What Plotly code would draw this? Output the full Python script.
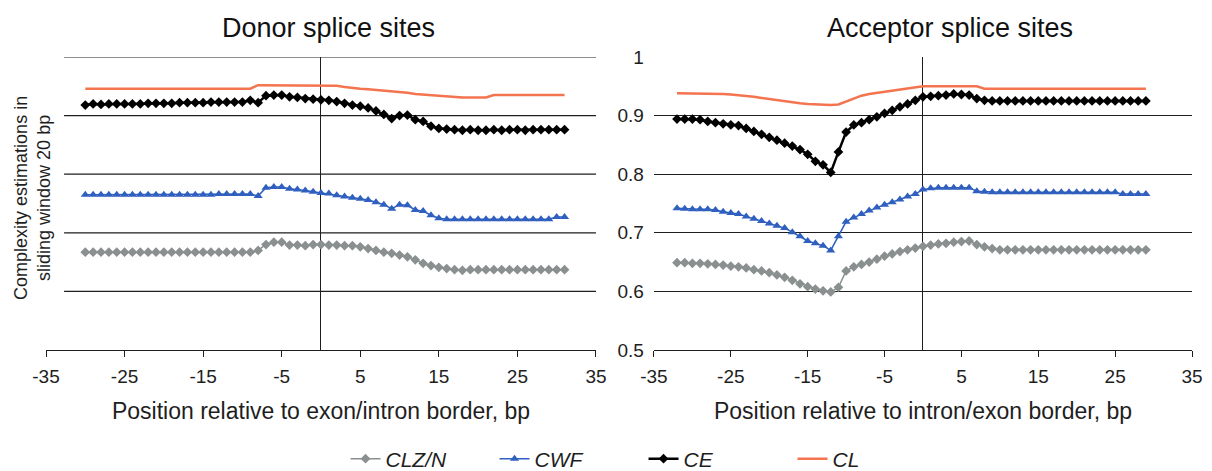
import plotly.graph_objects as go

# ---------------- data ----------------
donor_x = list(range(-30, 32))
acceptor_x = list(range(-32, 30))

donor_cl = [0.946] * 22 + [0.952] * 10 + [
    0.951, 0.949, 0.947, 0.946, 0.945, 0.944, 0.943, 0.942, 0.941, 0.939,
    0.937, 0.936, 0.934, 0.933, 0.932, 0.931, 0.931, 0.931, 0.931, 0.931] + [0.935] * 10

donor_ce = [0.918, 0.920, 0.919, 0.920, 0.920, 0.920, 0.920, 0.920, 0.921, 0.921,
            0.921, 0.921, 0.922, 0.922, 0.922, 0.922, 0.923, 0.923, 0.923, 0.923,
            0.923, 0.926, 0.922, 0.934, 0.935, 0.935, 0.932, 0.931, 0.929, 0.928,
            0.927, 0.926, 0.924, 0.921, 0.918, 0.916, 0.913, 0.908, 0.902, 0.895,
            0.900, 0.901, 0.893, 0.890, 0.882, 0.878, 0.877,
            0.876, 0.875, 0.876, 0.875, 0.875, 0.876, 0.875, 0.876, 0.876, 0.875,
            0.876, 0.876, 0.876, 0.876, 0.876]

donor_cwf = [0.765] * 17 + [0.766] * 5 + [
    0.763, 0.777, 0.778, 0.778, 0.775, 0.774, 0.772, 0.770, 0.768, 0.767,
    0.764, 0.762, 0.760, 0.758, 0.756, 0.752, 0.748, 0.741, 0.748, 0.747,
    0.739, 0.737, 0.730, 0.725] + [0.723] * 14 + [0.727, 0.727]

donor_clzn = [0.667] * 22 + [
    0.670, 0.680, 0.684, 0.684, 0.679, 0.679, 0.678, 0.680, 0.680, 0.679,
    0.679, 0.678, 0.678, 0.676, 0.673, 0.670, 0.667, 0.665, 0.662, 0.659,
    0.654, 0.648, 0.644, 0.641, 0.639, 0.637, 0.636] + [0.637] * 13

acc_cl = [0.938] * 6 + [
    0.937, 0.936, 0.935, 0.934, 0.932, 0.930, 0.928, 0.926, 0.924, 0.922,
    0.921, 0.920, 0.919, 0.918, 0.918, 0.919, 0.924, 0.930, 0.934, 0.937,
    0.939, 0.941, 0.943, 0.945, 0.947, 0.948, 0.950] + [0.950] * 7 + [0.946] * 22

acc_ce = [0.894, 0.894, 0.894, 0.893, 0.890, 0.888, 0.886, 0.884, 0.883, 0.878,
          0.873, 0.868, 0.863, 0.858, 0.853, 0.848, 0.842, 0.834, 0.822, 0.816,
          0.803, 0.838, 0.872, 0.884, 0.888, 0.893, 0.898, 0.904, 0.909, 0.915,
          0.920, 0.926, 0.932, 0.933, 0.934, 0.935, 0.937, 0.936, 0.935, 0.929,
          0.926] + [0.925] * 21

acc_cwf = [0.742, 0.741, 0.740, 0.740, 0.740, 0.739, 0.736, 0.734, 0.732, 0.728,
           0.724, 0.720, 0.716, 0.712, 0.708, 0.701, 0.694, 0.686, 0.682, 0.678,
           0.670, 0.694, 0.719, 0.726, 0.732, 0.738, 0.743, 0.748, 0.752, 0.757,
           0.762, 0.766, 0.774, 0.776, 0.777, 0.777, 0.777, 0.777, 0.777, 0.771,
           0.770] + [0.769] * 17 + [0.766] * 4

acc_clzn = [0.649, 0.649, 0.648, 0.648, 0.647, 0.646, 0.645, 0.643, 0.642, 0.640,
            0.637, 0.635, 0.632, 0.628, 0.624, 0.619, 0.613, 0.608, 0.604, 0.601,
            0.599, 0.607, 0.635, 0.642, 0.646, 0.650, 0.655, 0.660, 0.664, 0.668,
            0.671, 0.674, 0.677, 0.679, 0.681, 0.682, 0.684, 0.685, 0.686, 0.680,
            0.676, 0.673] + [0.671] * 20

x_ticks = [-35, -25, -15, -5, 5, 15, 25, 35]
x_tick_text = ["-35", "-25", "-15", "-5", "5", "15", "25", "35"]
y_ticks = [0.5, 0.6, 0.7, 0.8, 0.9, 1.0]
y_tick_text = ["0.5", "0.6", "0.7", "0.8", "0.9", "1"]
series_names = ["CLZ/N", "CWF", "CE", "CL"]

# ---------------- styles ----------------
GRAY = "#8a8f8f"
BLUE = "#2f5fbf"
BLACK = "#000000"
ORANGE = "#f3744f"
AX = "#1e1e1e"
FONT = "Liberation Sans, Arial, sans-serif"
LEFT_GRID_START = -32.7   # left-panel gridlines start a little inside the axis

fig = go.Figure()

def add_panel(x, clzn, cwf, ce, cl, xa, ya, show_legend):
    fig.add_trace(go.Scatter(x=x, y=clzn, name=series_names[0], mode="lines+markers",
                             line=dict(color=GRAY, width=1.5),
                             marker=dict(symbol="diamond", size=7.5, color=GRAY),
                             xaxis=xa, yaxis=ya, showlegend=show_legend))
    fig.add_trace(go.Scatter(x=x, y=cwf, name=series_names[1], mode="lines+markers",
                             line=dict(color=BLUE, width=1.5),
                             marker=dict(symbol="triangle-up", size=8, color=BLUE),
                             xaxis=xa, yaxis=ya, showlegend=show_legend))
    fig.add_trace(go.Scatter(x=x, y=ce, name=series_names[2], mode="lines+markers",
                             line=dict(color=BLACK, width=2.5),
                             marker=dict(symbol="diamond", size=7.5, color=BLACK),
                             xaxis=xa, yaxis=ya, showlegend=show_legend))
    fig.add_trace(go.Scatter(x=x, y=cl, name=series_names[3], mode="lines",
                             line=dict(color=ORANGE, width=2.5),
                             xaxis=xa, yaxis=ya, showlegend=show_legend))

add_panel(donor_x, donor_clzn, donor_cwf, donor_ce, donor_cl, "x", "y", True)
add_panel(acceptor_x, acc_clzn, acc_cwf, acc_ce, acc_cl, "x2", "y2", False)

# left-panel horizontal gridlines (drawn at the y tick values)
shapes = []
for v in y_ticks[1:]:
    shapes.append(dict(type="line", xref="x", yref="y", x0=LEFT_GRID_START, x1=35,
                       y0=v, y1=v, line=dict(color=AX, width=1.2), layer="below"))

xaxis_common = dict(range=[-35, 35], tickvals=x_ticks, ticktext=x_tick_text,
                    ticks="outside", ticklen=6, tickcolor=AX, tickwidth=1.2,
                    showline=True, linecolor=AX, linewidth=1.2, showgrid=False,
                    zeroline=True, zerolinecolor=AX, zerolinewidth=1.2,
                    ticklabelstandoff=3, ticklabeloverflow="allow",
                    tickfont=dict(size=19, color=AX, family=FONT),
                    title_font=dict(size=23, color=AX, family=FONT), title_standoff=16)
yaxis_common = dict(range=[0.5, 1.0], tickvals=y_ticks, ticktext=y_tick_text,
                    zeroline=False, showline=False, ticks="",
                    tickfont=dict(size=19, color=AX, family=FONT))

fig.update_layout(
    width=1204, height=463,
    paper_bgcolor="white", plot_bgcolor="white",
    margin=dict(l=38, r=20, t=49, b=121, autoexpand=False),
    font=dict(family=FONT, color=AX),
    xaxis=dict(domain=[0.0, 0.4799], anchor="y",
               title_text="Position relative to exon/intron border, bp", **xaxis_common),
    xaxis2=dict(domain=[0.5305, 1.0], anchor="y2",
                title_text="Position relative to intron/exon border, bp", **xaxis_common),
    yaxis=dict(domain=[0, 1], anchor="x", showticklabels=False, showgrid=False,
               **yaxis_common),
    yaxis2=dict(domain=[0, 1], anchor="x2", showticklabels=True, showgrid=True,
                gridcolor=AX, gridwidth=1.2, ticklabelstandoff=9, **yaxis_common),
    shapes=shapes,
    legend=dict(orientation="h", x=0.5214, xanchor="center", y=-0.372, yanchor="middle",
                font=dict(size=21, color=AX, family=FONT, style="italic"),
                entrywidth=104, itemwidth=30, bgcolor="rgba(0,0,0,0)"),
    annotations=[
        dict(text="Donor splice sites", x=0.2469, y=1.0, xref="paper", yref="paper",
             xanchor="center", yanchor="bottom", yshift=12, showarrow=False,
             font=dict(size=27, color="#111", family=FONT)),
        dict(text="Acceptor splice sites", x=0.7888, y=1.0, xref="paper", yref="paper",
             xanchor="center", yanchor="bottom", yshift=12, showarrow=False,
             font=dict(size=27, color="#111", family=FONT)),
        dict(text="Complexity estimations in<br>sliding window 20 bp", textangle=-90,
             x=-0.01134, y=0.519, xref="paper", yref="paper", xanchor="center",
             yanchor="middle", showarrow=False,
             font=dict(size=18, color=AX, family=FONT)),
    ],
)

fig.write_html("out.html")
